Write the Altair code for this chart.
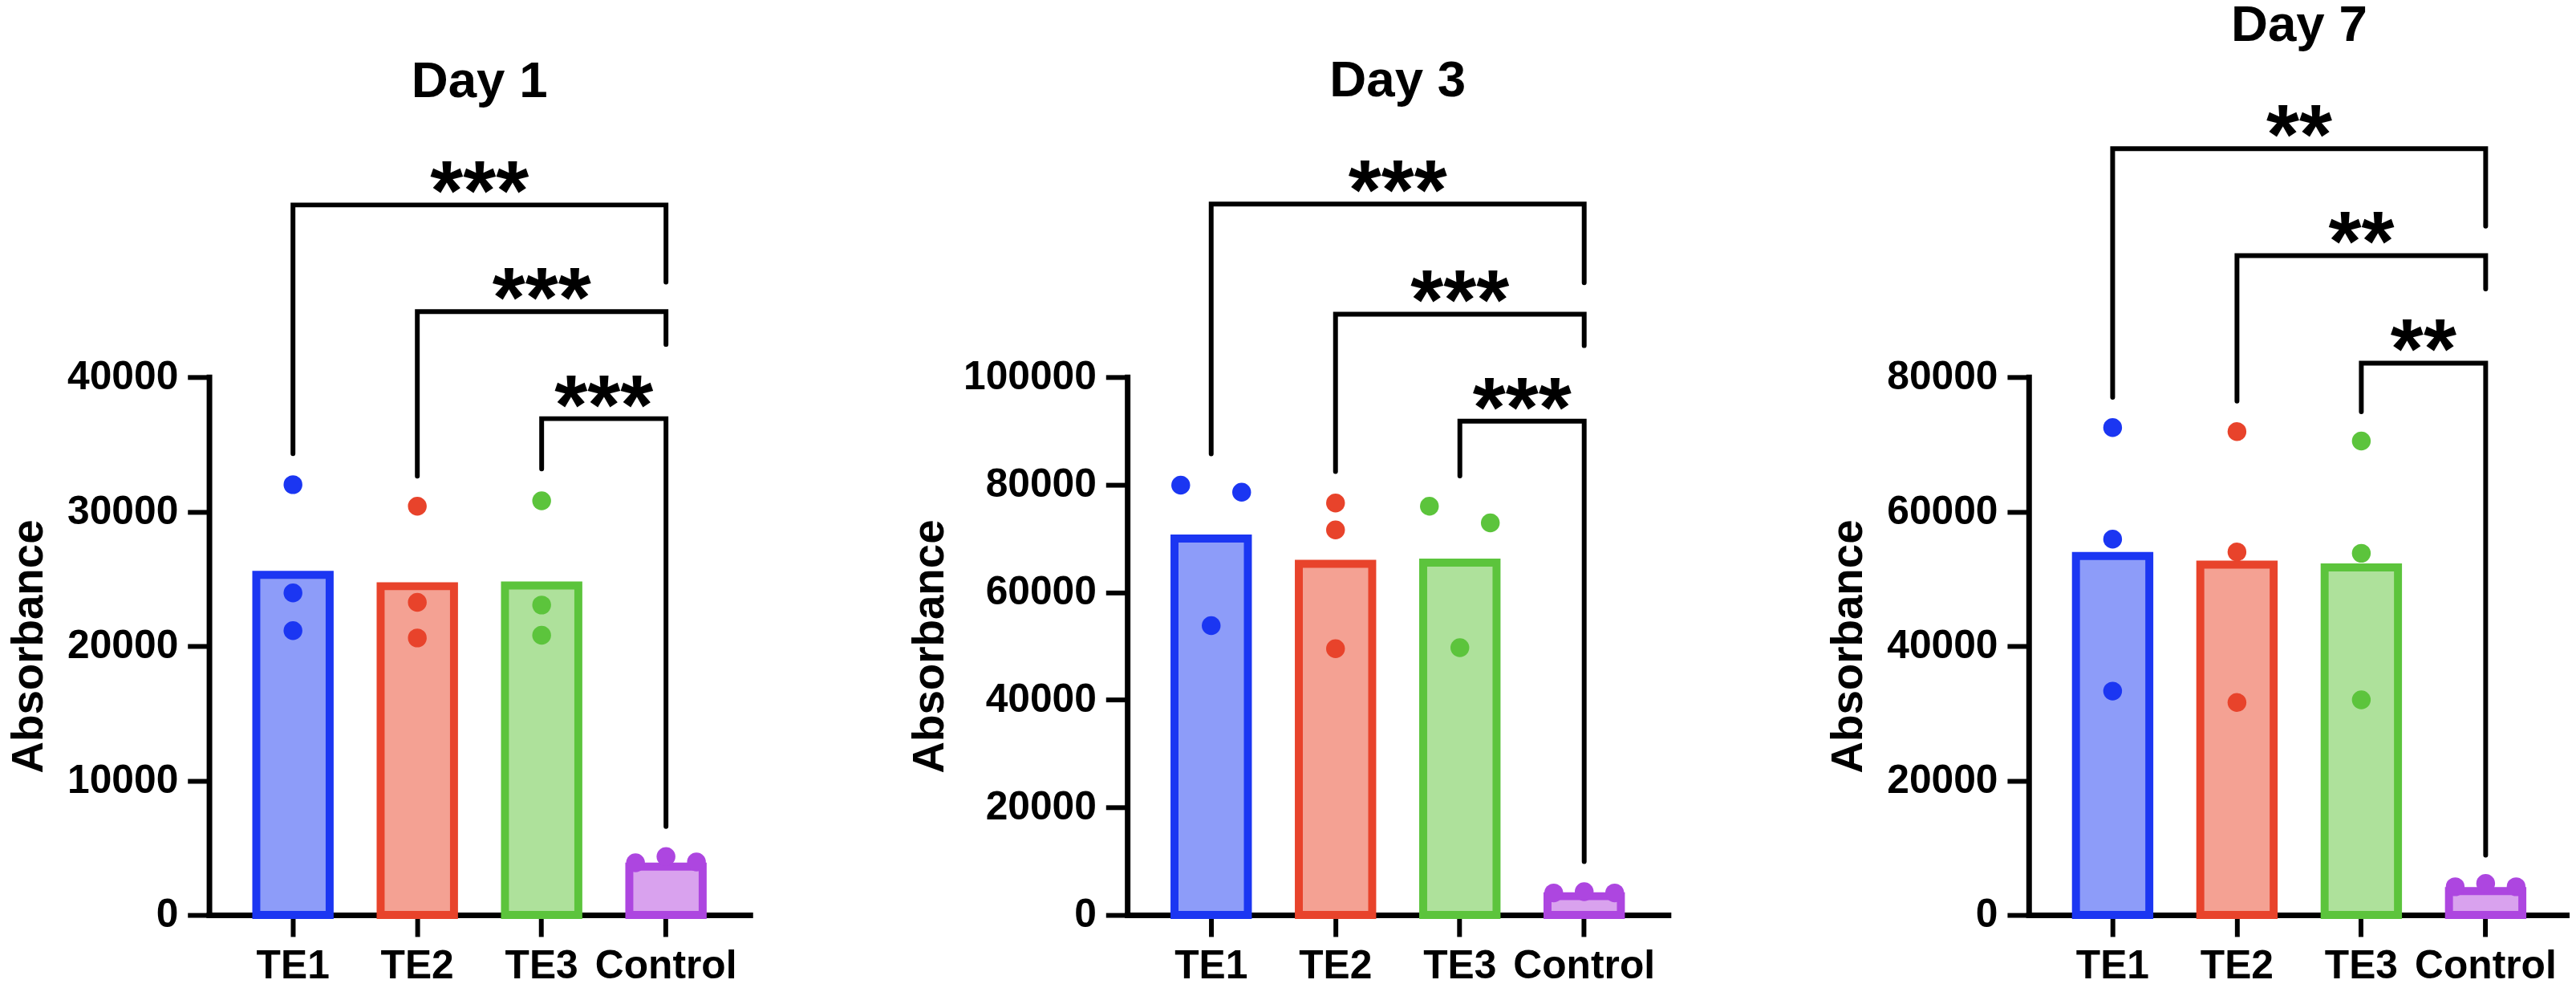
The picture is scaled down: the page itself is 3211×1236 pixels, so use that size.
import altair as alt
import pandas as pd

FONT = "Liberation Sans"
CATS = ["TE1", "TE2", "TE3", "Control"]
STROKE = ["#1b36f2", "#e8432b", "#5cc43c", "#ad46e0"]
FILL = ["#8d9cf9", "#f4a193", "#aee19b", "#d9a2ee"]

PANELS = ["Day 1", "Day 3", "Day 7"]
Y_MAX = [40000, 100000, 80000]
Y_STEP = [10000, 20000, 20000]

# bar heights (TE1, TE2, TE3, Control)
BARS_D1 = [25300, 24450, 24500, 3600]
BARS_D3 = [70000, 65300, 65500, 3500]
BARS_D7 = [53400, 52100, 51700, 3550]

# replicate points per group
D1_TE1 = [32000, 23950, 21150]
D1_TE2 = [30400, 23250, 20600]
D1_TE3 = [30800, 23050, 20800]
D1_CTRL = [3880, 4350, 3940]

D3_TE1 = [79900, 78600, 53800]
D3_TE2 = [76600, 71600, 49500]
D3_TE3 = [76000, 72900, 49700]
D3_CTRL = [4100, 4350, 4100]

D7_TE1 = [72500, 55900, 33300]
D7_TE2 = [71900, 54000, 31600]
D7_TE3 = [70500, 53800, 32000]
D7_CTRL = [4200, 4700, 4200]

# horizontal slot of each replicate (-1 left, 0 centre, 1 right)
SLOT_CENTER = [0, 0, 0]
SLOT_SPREAD = [-1, 0, 1]
D3_SLOT_TE1 = [-1, 1, 0]
D3_SLOT_TE3 = [-1, 1, 0]

# brackets: left group index, right group index, bracket top, left leg end, right leg end, label
BRK_LEFT = [0, 1, 2]
BRK_RIGHT = [3, 3, 3]
D1_TOP = [52800, 44870, 36910]
D1_LEND = [34300, 32640, 33170]
D1_REND = [47060, 42430, 6590]
D3_TOP = [132160, 111700, 91810]
D3_LEND = [85730, 82460, 81640]
D3_REND = [117540, 105850, 9940]
D7_TOP = [113960, 98060, 82060]
D7_LEND = [77000, 76440, 74850]
D7_REND = [102460, 93100, 8890]
D1_LAB = ["***", "***", "***"]
D3_LAB = ["***", "***", "***"]
D7_LAB = ["**", "**", "**"]

W = 678
H = 674
P_IN = 0.41
P_OUT = 0.38
JIT = 0.245
C0 = P_OUT + (1 - P_IN) / 2
LIN_DOMAIN = [-C0, 4 - P_IN + 2 * P_OUT - C0]


def panel(title, ymax, ystep, bars, groups, slots, tops, lends, rends, labs):
    bar_df = pd.DataFrame({"cat": CATS, "v": bars})
    rows = []
    for gi, (vals, sl) in enumerate(zip(groups, slots)):
        for val, s in zip(vals, sl):
            rows.append({"cat": CATS[gi], "xi": gi + s * JIT, "v": val})
    pt_df = pd.DataFrame(rows)
    lrows, srows = [], []
    for b in range(len(tops)):
        l, r = BRK_LEFT[b], BRK_RIGHT[b]
        pts = [(l, lends[b]), (l, tops[b]), (r, tops[b]), (r, rends[b])]
        for k, (xx, yy) in enumerate(pts):
            lrows.append({"bid": b, "seq": k, "xi": xx, "v": yy})
        srows.append({"xi": (l + r) / 2, "v": tops[b], "lab": labs[b]})
    br_df = pd.DataFrame(lrows)
    st_df = pd.DataFrame(srows)

    yscale = alt.Scale(domain=[0, ymax], nice=False, zero=True)
    xlin = alt.Scale(domain=LIN_DOMAIN, nice=False, zero=False)
    ticks = list(range(0, ymax + 1, ystep))
    yax = alt.Axis(title="Absorbance", values=ticks, format="d",
                   labelPadding=12, titlePadding=19)

    def yenc():
        return alt.Y("v:Q", scale=yscale, axis=yax)

    bars_l = alt.Chart(bar_df).mark_bar(strokeWidth=10, strokeJoin="miter").encode(
        x=alt.X("cat:N", sort=CATS,
                scale=alt.Scale(domain=CATS, paddingInner=P_IN, paddingOuter=P_OUT),
                axis=alt.Axis(title=None, labelAngle=0, labelPadding=12)),
        y=yenc(),
        fill=alt.Fill("cat:N", scale=alt.Scale(domain=CATS, range=FILL), legend=None),
        stroke=alt.Stroke("cat:N", scale=alt.Scale(domain=CATS, range=STROKE), legend=None),
    )
    pts_l = alt.Chart(pt_df).mark_circle(size=555, opacity=1).encode(
        x=alt.X("xi:Q", scale=xlin, axis=None),
        y=yenc(),
        color=alt.Color("cat:N", scale=alt.Scale(domain=CATS, range=STROKE), legend=None),
    )
    br_l = alt.Chart(br_df).mark_line(color="black", strokeWidth=6, strokeCap="round",
                                       strokeJoin="miter").encode(
        x=alt.X("xi:Q", scale=xlin, axis=None),
        y=yenc(),
        detail="bid:N",
        order="seq:Q",
    )
    st_l = alt.Chart(st_df).mark_text(font=FONT, fontSize=106, fontWeight="bold",
                                      color="black", align="center",
                                      baseline="alphabetic", dy=19).encode(
        x=alt.X("xi:Q", scale=xlin, axis=None),
        y=yenc(),
        text="lab:N",
    )
    return alt.layer(bars_l, pts_l, br_l, st_l).resolve_scale(
        x="independent", fill="independent", stroke="independent", color="independent"
    ).properties(width=W, height=H, title=title)


p1 = panel("Day 1", 40000, 10000, BARS_D1, [D1_TE1, D1_TE2, D1_TE3, D1_CTRL],
           [SLOT_CENTER, SLOT_CENTER, SLOT_CENTER, SLOT_SPREAD],
           D1_TOP, D1_LEND, D1_REND, D1_LAB)
p2 = panel("Day 3", 100000, 20000, BARS_D3, [D3_TE1, D3_TE2, D3_TE3, D3_CTRL],
           [D3_SLOT_TE1, SLOT_CENTER, D3_SLOT_TE3, SLOT_SPREAD],
           D3_TOP, D3_LEND, D3_REND, D3_LAB)
p3 = panel("Day 7", 80000, 20000, BARS_D7, [D7_TE1, D7_TE2, D7_TE3, D7_CTRL],
           [SLOT_CENTER, SLOT_CENTER, SLOT_CENTER, SLOT_SPREAD],
           D7_TOP, D7_LEND, D7_REND, D7_LAB)

chart = alt.hconcat(p1, p2, p3, spacing=198).properties(
    padding={"top": -12, "left": 0, "right": 0, "bottom": 0}
).configure_axis(
    domainColor="black", domainWidth=7, domainCap="square",
    tickColor="black", tickWidth=6, tickSize=27,
    labelFont=FONT, labelFontSize=50, labelFontWeight="bold", labelColor="black",
    titleFont=FONT, titleFontSize=55, titleFontWeight="bold", titleColor="black",
    grid=False, zindex=1,
).configure_title(
    font=FONT, fontSize=64, fontWeight="bold", color="black", anchor="middle", offset=56,
).configure_view(stroke=None)

chart.save("out.html", embed_options={"renderer": "svg", "actions": False})
